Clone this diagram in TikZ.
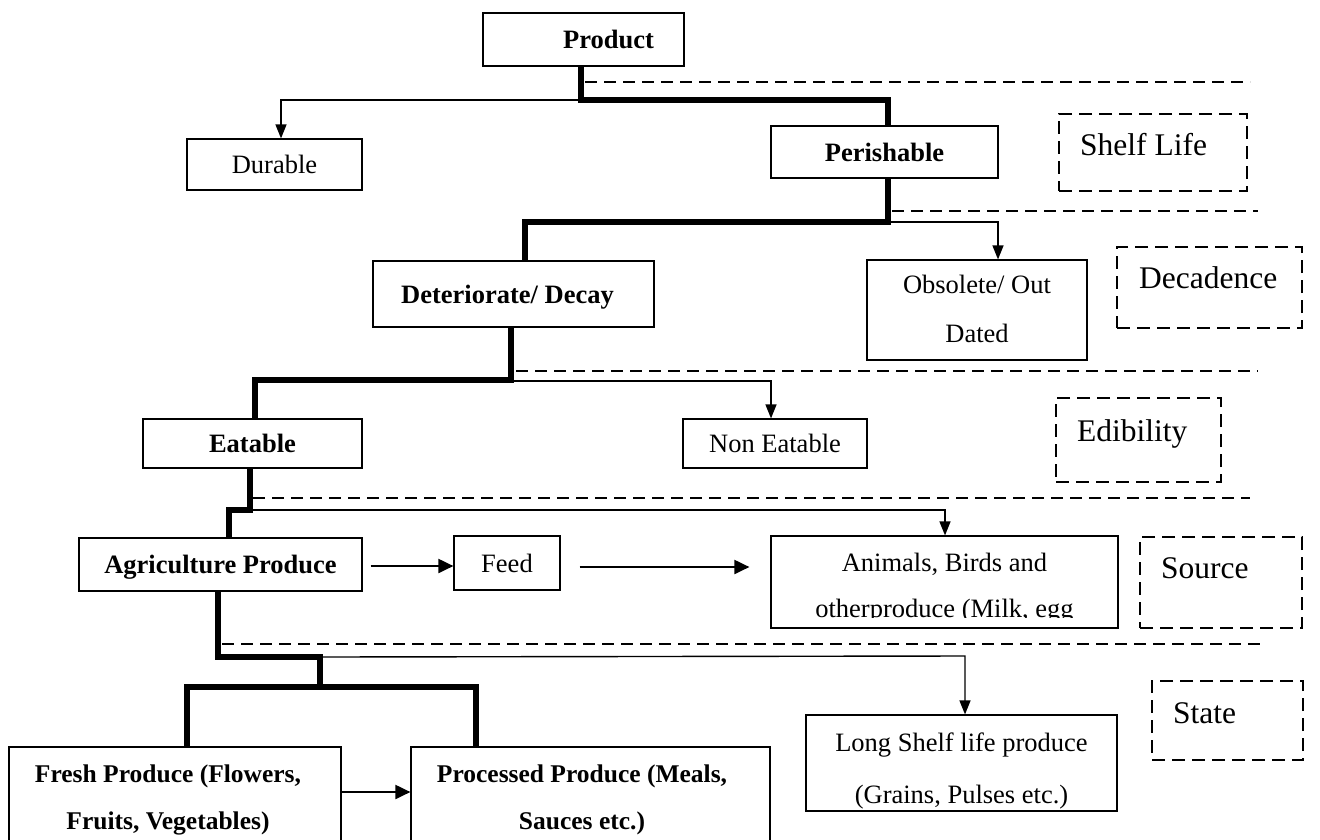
\documentclass[tikz,border=0pt]{standalone}
\usepackage{fontspec}
\setmainfont{Liberation Serif}
\usetikzlibrary{arrows.meta,calc}

% two centred lines, first baseline is the reference point
\newcommand\duoline[3]{\vtop{\baselineskip=#3pt\relax\halign{\hfil##\hfil\cr#1\cr#2\cr}}}

\tikzset{
  box/.style={draw, line width=1.2pt, inner sep=0pt, font=\fontsize{26.5}{32}\selectfont, text height=18pt, text depth=0pt},
  boldbox/.style={box, font=\fontsize{26.5}{32}\selectfont\bfseries},
  tagbox/.style={draw, line width=1.3pt, dash pattern=on 13pt off 7pt, inner sep=0pt},
  tagtext/.style={inner sep=0pt, anchor=base west, font=\fontsize{31.5}{38}\selectfont},
  txt/.style={inner sep=0pt, anchor=base, font=\fontsize{26.5}{32}\selectfont},
  boldtxt/.style={txt, font=\fontsize{25.5}{32}\selectfont\bfseries},
  heavy/.style={line width=6.5pt, line join=miter},
  link/.style={line width=1.4pt, -{Triangle[length=14pt,width=11pt]}},
  flow/.style={line width=2pt, -{Triangle[length=15pt,width=14pt]}},
  sep/.style={line width=1.3pt, dash pattern=on 12pt off 7pt},
}

\begin{document}
\begin{tikzpicture}[x=1pt, y=-1pt]
\useasboundingbox (0,0) rectangle (1320,839);
\clip (0,0) rectangle (1320,839);
\fill[white] (0,0) rectangle (1320,839);

% ---- classification boxes ----
\node[boldbox, minimum width=201pt, minimum height=53pt] (product) at (583.5,39.5) {\hspace*{50pt}Product};
\node[box, minimum width=175pt, minimum height=51pt] (durable) at (274.5,164.5) {Durable};
\node[boldbox, minimum width=227pt, minimum height=52pt] (perishable) at (884.5,152) {Perishable};
\node[boldbox, minimum width=281pt, minimum height=66pt] (deteriorate) at (513.5,294) {\hspace*{-12pt}Deteriorate/ Decay};
\node[box, minimum width=220pt, minimum height=100pt] (obsolete) at (977,310) {};
\node[txt] (obsoletetext) at (977,293) {\duoline{Obsolete/ Out}{Dated}{49}};
\node[boldbox, minimum width=219pt, minimum height=49pt] (eatable) at (252.5,443.5) {Eatable};
\node[box, minimum width=184pt, minimum height=49pt] (noneatable) at (775,443.5) {Non Eatable};
\node[boldbox, minimum width=283pt, minimum height=53pt] (agri) at (220.5,564.5) {Agriculture Produce};
\node[box, minimum width=106pt, minimum height=54pt] (feed) at (507,563) {Feed};
\node[box, minimum width=347pt, minimum height=92pt] (animals) at (944.5,582) {};
\begin{scope}
  \clip (animals.north west) rectangle ($(animals.south east)+(0,-11)$);
  \node[txt] (animalstext) at (944.5,571) {\duoline{Animals, Birds and}{otherproduce (Milk, egg}{46}};
\end{scope}
\node[box, minimum width=311pt, minimum height=96pt] (longshelf) at (961.5,763) {};
\node[txt] (longshelftext) at (961.5,751) {\duoline{Long Shelf life produce}{(Grains, Pulses etc.)}{52}};
\node[box, minimum width=332pt, minimum height=96pt] (fresh) at (175,795) {};
\node[boldtxt] (freshtext) at (168,782) {\duoline{Fresh Produce (Flowers,}{Fruits, Vegetables)}{47}};
\node[box, minimum width=359pt, minimum height=96pt] (processed) at (590.5,795) {};
\node[boldtxt] (processedtext) at (582,782) {\duoline{Processed Produce (Meals,}{Sauces etc.)}{47}};

% ---- criterion tags ----
\node[tagbox, minimum width=188pt, minimum height=77pt] (shelf) at (1153,152.5) {};
\node[tagtext] (shelftext) at (1080,155) {Shelf Life};
\node[tagbox, minimum width=185pt, minimum height=81pt] (decadence) at (1209.5,287.5) {};
\node[tagtext] (decadencetext) at (1139,288) {Decadence};
\node[tagbox, minimum width=165pt, minimum height=84pt] (edibility) at (1138.5,440) {};
\node[tagtext] (edibilitytext) at (1077,441) {Edibility};
\node[tagbox, minimum width=162pt, minimum height=91pt] (source) at (1221,582.5) {};
\node[tagtext] (sourcetext) at (1161,578) {Source};
\node[tagbox, minimum width=151pt, minimum height=79pt] (state) at (1227.5,720.5) {};
\node[tagtext] (statetext) at (1173,723) {State};

% ---- level separators ----
\draw[sep] (585,82) -- (1250,82);
\draw[sep] (892,211) -- (1258,211);
\draw[sep] (516,371) -- (1258,371);
\draw[sep] (253,498) -- (1250,498);
\draw[sep] (222,644) -- (1265,644);

% ---- junction points ----
\coordinate (c1a) at (581,100);  \coordinate (c1b) at (888,100);  \coordinate (c1c) at (281,100);
\coordinate (c2a) at (888,222);  \coordinate (c2b) at (525,222);  \coordinate (c2c) at (998,222);
\coordinate (c3a) at (511,380);  \coordinate (c3b) at (255,380);  \coordinate (c3c) at (771,381);
\coordinate (c4a) at (250,510);  \coordinate (c4b) at (229,510);  \coordinate (c4c) at (945,510);
\coordinate (c5a) at (218,657);  \coordinate (c5b) at (320,657);  \coordinate (c5c) at (320,687);
\coordinate (c5d) at (187,687);  \coordinate (c5e) at (476,687);  \coordinate (c5f) at (965,656);

% ---- side branches ----
\draw[link] (c1a) -- (c1c) -- (c1c |- durable.north);
\draw[link] (c2a) -- (c2c) -- (c2c |- obsolete.north);
\draw[link] (c3a |- c3c) -- (c3c) -- (c3c |- noneatable.north);
\draw[link] (c4a) -- (c4c) -- (c4c |- animals.north);
\draw[link] (c5b) -- (c5f) -- (c5f |- longshelf.north);

% ---- main path ----
\draw[heavy] (c1a |- product.south) -- (c1a) -- (c1b) -- (c1b |- perishable.north);
\draw[heavy] (c2a |- perishable.south) -- (c2a) -- (c2b) -- (c2b |- deteriorate.north);
\draw[heavy] (c3a |- deteriorate.south) -- (c3a) -- (c3b) -- (c3b |- eatable.north);
\draw[heavy] (c4a |- eatable.south) -- (c4a) -- (c4b) -- (c4b |- agri.north);
\draw[heavy] (c5a |- agri.south) -- (c5a) -- (c5b) -- (c5c);
\draw[heavy] (c5d |- fresh.north) -- (c5d) -- (c5e) -- (c5e |- processed.north);

% ---- horizontal flows ----
\draw[flow] ($(agri.east)+(8,1.5)$) -- ($(agri.east -| feed.west)+(0,1.5)$);
\draw[flow] ($(feed.east)+(19,4)$) -- ($(feed.east -| animals.west)+(-21,4)$);
\draw[flow] ($(fresh.east)+(0,-3)$) -- ($(fresh.east -| processed.west)+(0,-3)$);
\end{tikzpicture}
\end{document}
